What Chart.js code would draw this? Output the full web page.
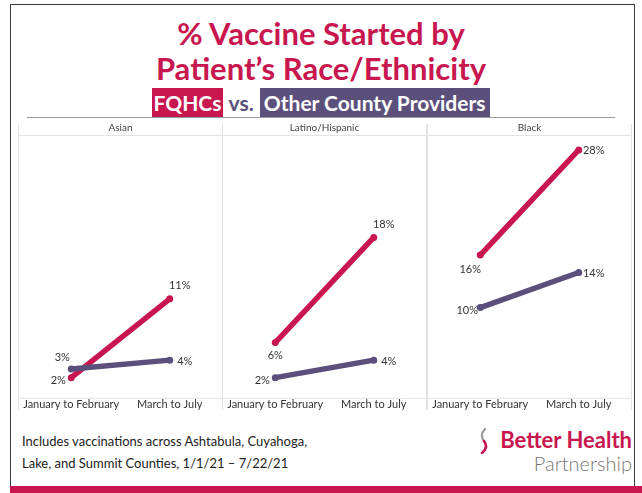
<!DOCTYPE html>
<html>
<head>
<meta charset="utf-8">
<script src="https://cdn.jsdelivr.net/npm/chart.js@4.4.1/dist/chart.umd.min.js"></script>
<style>
  html, body { margin: 0; padding: 0; background: #fff; }
  body { width: 642px; height: 493px; position: relative; overflow: hidden; font-family: Lato, "Open Sans", sans-serif; }
  #frame { position: absolute; left: 10px; top: 4px; width: 625px; height: 489px; border: 1.5px solid #3a3a3a; border-bottom: none; box-sizing: border-box; }
  #bottomBar { position: absolute; left: 10px; top: 486px; width: 632px; height: 7px; background: #c8174f; }
  .title { position: absolute; left: 0; width: 642px; text-align: center; color: #c8174f; font-weight: 700; font-size: 31px; line-height: 36px; }
  #legend { position: absolute; top: 88px; left: 0; width: 642px; text-align: center; font-weight: 700; font-size: 21px; line-height: 29px; }
  #legend span { display: inline-block; padding: 0 1px; }
  .fq { background: #c8174f; color: #fff; }
  .vs { color: #5b4f7c; }
  .oth { background: #5b4f7c; color: #fff; padding: 0 4px !important; }
  #rule { position: absolute; left: 27px; top: 117px; width: 588px; height: 1px; background: #9a9a9a; }
  .panel { position: absolute; top: 120px; }
  #note { position: absolute; left: 22px; top: 430px; font-size: 13px; line-height: 22px; color: #222; }
  #logo1 { position: absolute; right: 10px; top: 426px; font-size: 22px; font-weight: 700; color: #c8174f; }
  #logo2 { position: absolute; right: 10px; top: 451px; font-size: 20px; font-weight: 300; color: #777; }
  #swoosh { position: absolute; left: 478px; top: 428px; }
</style>
</head>
<body>
<div id="frame"></div>
<div class="title" style="top:15px">% Vaccine Started by</div>
<div class="title" style="top:50px">Patient’s Race/Ethnicity</div>
<div id="legend"><span class="fq">FQHCs</span> <span class="vs">vs.</span> <span class="oth">Other County Providers</span></div>
<div id="rule"></div>
<canvas class="panel" id="panel0" width="205" height="293" style="left:18px"></canvas>
<canvas class="panel" id="panel1" width="205" height="293" style="left:222px"></canvas>
<canvas class="panel" id="panel2" width="205" height="293" style="left:427px"></canvas>
<div id="note">Includes vaccinations across Ashtabula, Cuyahoga,<br>Lake, and Summit Counties, 1/1/21 – 7/22/21</div>
<svg id="swoosh" width="14" height="26" viewBox="0 0 14 26">
  <path d="M7 1 C3 5 3 9 6 13" stroke="#9a9a9a" stroke-width="2.2" fill="none" stroke-linecap="round"/>
  <path d="M6 13 C9 17 9 21 4 25" stroke="#c8174f" stroke-width="2.6" fill="none" stroke-linecap="round"/>
</svg>
<div id="logo1">Better Health</div>
<div id="logo2">Partnership</div>
<div id="bottomBar"></div>
<script>
const categories = ["January to February", "March to July"];
const groups = ["Asian", "Latino/Hispanic", "Black"];
const fqhcValues = [[2, 11], [6, 18], [16, 28]];
const otherValues = [[3, 4], [2, 4], [10, 14]];

const red = "#c8174f";
const purple = "#5b4f7c";

// where each value label sits relative to its point
const fqhcLabelPos = [["left", "aboveRight"], ["below", "aboveRight"], ["belowLeft", "right"]];
const otherLabelPos = [["aboveLeft", "right"], ["left", "right"], ["left", "right"]];

const offsets = {
  left: [-13, 3], right: [15, 1], below: [0, 13], above: [0, -13],
  aboveRight: [10, -13], aboveLeft: [-9, -11], belowLeft: [-10, 14]
};

const panelFrame = {
  id: "panelFrame",
  beforeDraw(chart) {
    const { ctx, chartArea, width, height } = chart;
    ctx.save();
    ctx.strokeStyle = "#e3e3e3";
    ctx.lineWidth = 1;
    ctx.beginPath();
    ctx.moveTo(0.5, 4); ctx.lineTo(0.5, height - 3);
    ctx.moveTo(width - 0.5, 4); ctx.lineTo(width - 0.5, height - 3);
    ctx.moveTo(0, chartArea.top + 0.5); ctx.lineTo(width, chartArea.top + 0.5);
    ctx.moveTo(0, chartArea.bottom + 0.5); ctx.lineTo(width, chartArea.bottom + 0.5);
    ctx.stroke();
    ctx.restore();
  }
};

const valueLabels = {
  id: "valueLabels",
  afterDatasetsDraw(chart) {
    const ctx = chart.ctx;
    ctx.save();
    ctx.font = "11px Lato, sans-serif";
    ctx.fillStyle = "#333";
    ctx.textAlign = "center";
    ctx.textBaseline = "middle";
    chart.data.datasets.forEach((ds, di) => {
      chart.getDatasetMeta(di).data.forEach((pt, i) => {
        const off = offsets[ds.labelPos[i]];
        ctx.fillText(ds.data[i] + "%", pt.x + off[0], pt.y + off[1]);
      });
    });
    ctx.restore();
  }
};

groups.forEach((g, p) => {
  new Chart(document.getElementById("panel" + p), {
    type: "line",
    data: {
      labels: categories,
      datasets: [
        {
          label: "Other County Providers",
          data: otherValues[p],
          labelPos: otherLabelPos[p],
          borderColor: purple,
          backgroundColor: purple,
          borderWidth: 5.5,
          borderCapStyle: "round",
          pointRadius: 3.5,
          pointBorderWidth: 0
        },
        {
          label: "FQHCs",
          data: fqhcValues[p],
          labelPos: fqhcLabelPos[p],
          borderColor: red,
          backgroundColor: red,
          borderWidth: 5.5,
          borderCapStyle: "round",
          pointRadius: 3.5,
          pointBorderWidth: 0
        }
      ]
    },
    options: {
      responsive: false,
      animation: false,
      layout: { padding: { top: 2, bottom: 2 } },
      plugins: {
        legend: { display: false },
        tooltip: { enabled: false },
        title: {
          display: true,
          text: g,
          color: "#444",
          font: { family: "Lato, sans-serif", size: 10, weight: "normal" },
          padding: { top: 0, bottom: 1 }
        }
      },
      scales: {
        x: {
          offset: true,
          grid: { display: false, drawTicks: false, tickLength: 0 },
          border: { display: false },
          ticks: { color: "#333", font: { family: "Lato, sans-serif", size: 11 }, padding: 0, maxRotation: 0, autoSkip: false }
        },
        y: {
          display: false,
          min: -0.3,
          max: 29.7
        }
      }
    },
    plugins: [panelFrame, valueLabels]
  });
});
</script>
</body>
</html>
